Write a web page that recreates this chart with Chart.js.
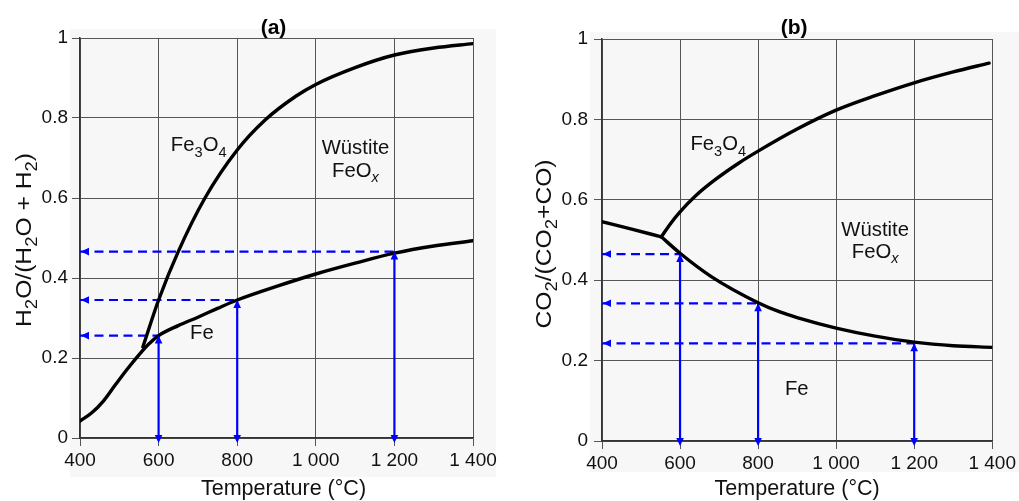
<!DOCTYPE html>
<html><head><meta charset="utf-8">
<script src="https://cdn.jsdelivr.net/npm/chart.js@4.4.1/dist/chart.umd.min.js"></script>
<style>
html,body{margin:0;padding:0;background:#fff;}
#wrap{position:relative;width:1019px;height:501px;overflow:hidden;}
.box{position:absolute;top:0;height:501px;}
#boxA{left:0;width:510px;}
#boxB{left:510px;width:509px;}
canvas{display:block;}
</style></head><body>
<div id="wrap">
  <div class="box" id="boxA"><canvas id="cA" width="510" height="501"></canvas></div>
  <div class="box" id="boxB"><canvas id="cB" width="509" height="501"></canvas></div>
</div>
<script>
// ---------- data ----------
const xTickValues = [400, 600, 800, 1000, 1200, 1400];
const xTickLabels = ['400', '600', '800', '1 000', '1 200', '1 400'];
const yTickValues = [0, 0.2, 0.4, 0.6, 0.8, 1];
const yTickLabels = ['0', '0.2', '0.4', '0.6', '0.8', '1'];

// (a) H2O / (H2O + H2)
const aLowerT = [400, 430, 460, 490, 520, 550, 575, 600, 650, 700, 750, 800, 900, 1000, 1100, 1200, 1300, 1400];
const aLowerV = [0.0425, 0.063, 0.093, 0.133, 0.172, 0.208, 0.235, 0.256, 0.281, 0.302, 0.324, 0.345, 0.379, 0.41, 0.437, 0.462, 0.48, 0.493];
const aUpperT = [560, 600, 650, 718, 800, 871, 950, 1000, 1100, 1200, 1300, 1400];
const aUpperV = [0.2275, 0.345, 0.466, 0.600, 0.720, 0.795, 0.855, 0.884, 0.926, 0.9575, 0.975, 0.986];
const aMarkT = [600, 800, 1200];
const aMarkV = [0.256, 0.345, 0.466];

// (b) CO2 / (CO2 + CO)
const bLeftT = [400, 476, 552];
const bLeftV = [0.5455, 0.527, 0.508];
const bUpperT = [552, 575, 600, 640, 690, 750, 800, 900, 1000, 1100, 1200, 1300, 1392];
const bUpperV = [0.508, 0.540, 0.570, 0.610, 0.650, 0.691, 0.721, 0.776, 0.823, 0.859, 0.891, 0.918, 0.940];
const bLowerT = [552, 600, 680, 800, 854, 900, 1000, 1100, 1200, 1300, 1400];
const bLowerV = [0.508, 0.467, 0.409, 0.344, 0.3217, 0.307, 0.281, 0.261, 0.246, 0.237, 0.233];
const bMarkT = [600, 800, 1200];
const bMarkV = [0.465, 0.3425, 0.243];

// region labels: [segments, T, value]  (segment mode: 0 normal, 1 subscript, 2 italic subscript)
const aRegionLabels = [
  [[['Fe',0],['3',1],['O',0],['4',1]], 702, 0.734],
  [[['Wüstite',0]], 1101, 0.7275],
  [[['FeO',0],['x',2]], 1101, 0.67],
  [[['Fe',0]], 710, 0.265]
];
const bRegionLabels = [
  [[['Fe',0],['3',1],['O',0],['4',1]], 698, 0.7405],
  [[['Wüstite',0]], 1100, 0.528],
  [[['FeO',0],['x',2]], 1100, 0.4726],
  [[['Fe',0]], 899, 0.131]
];

// ---------- helpers ----------
const FONT = "'Liberation Sans', Arial, Helvetica, sans-serif";
const pts = (T, V) => T.map((t, i) => ({x: t, y: V[i]}));

function drawRich(ctx, segs, cx, cy, size, rot, sx, subRatio) {
  ctx.save();
  ctx.translate(cx, cy);
  if (rot) ctx.rotate(rot);
  if (sx) ctx.scale(sx, 1);
  const sub = size * (subRatio || 0.72);
  const fonts = segs.map(s => s[1] === 0 ? `${size}px ${FONT}` : (s[1] === 2 ? `italic ${sub}px ${FONT}` : `${sub}px ${FONT}`));
  let total = 0;
  const ws = segs.map((s, i) => { ctx.font = fonts[i]; const w = ctx.measureText(s[0]).width; total += w; return w; });
  let x = -total / 2;
  const base = size * 0.358;
  ctx.textAlign = 'left';
  ctx.textBaseline = 'alphabetic';
  ctx.fillStyle = '#111';
  segs.forEach((s, i) => {
    ctx.font = fonts[i];
    ctx.fillText(s[0], x, base + (s[1] ? size * 0.27 : 0));
    x += ws[i];
  });
  ctx.restore();
}

function tri(ctx, x, y, dir) { // tip at (x,y)
  const L = 8, h = 3.8;
  ctx.beginPath();
  if (dir === 'left') { ctx.moveTo(x, y); ctx.lineTo(x + L, y - h); ctx.lineTo(x + L, y + h); }
  if (dir === 'up') { ctx.moveTo(x, y); ctx.lineTo(x - h, y + L); ctx.lineTo(x + h, y + L); }
  if (dir === 'down') { ctx.moveTo(x, y); ctx.lineTo(x - h, y - L); ctx.lineTo(x + h, y - L); }
  ctx.closePath();
  ctx.fill();
}

function makeChart(id, cfg) {
  const W = cfg.W, H = 501, A = cfg.area;
  const curveDs = cfg.curves.map(c => ({
    data: pts(c[0], c[1]), borderColor: '#000', borderWidth: 3.4, pointRadius: 0,
    cubicInterpolationMode: 'monotone', fill: false, borderCapStyle: 'round', borderJoinStyle: 'round'
  }));
  const dashDs = cfg.markT.map((t, i) => ({
    data: [{x: 400, y: cfg.markV[i]}, {x: t, y: cfg.markV[i]}],
    borderColor: '#0000ff', borderWidth: 2.2, borderDash: [9, 5.5], pointRadius: 0, fill: false
  }));
  const vertDs = cfg.markT.map((t, i) => ({
    data: [{x: t, y: 0}, {x: t, y: cfg.markV[i]}],
    borderColor: '#0000ff', borderWidth: 2.2, pointRadius: 0, fill: false, clip: false
  }));

  const deco = {
    id: 'deco' + id,
    beforeDraw(chart) {
      const ctx = chart.ctx;
      ctx.save();
      ctx.fillStyle = '#ffffff';
      ctx.fillRect(0, 0, W, H);
      ctx.fillStyle = '#f7f7f7';
      const r = cfg.bg;
      ctx.fillRect(r[0], r[1], r[2] - r[0], r[3] - r[1]);
      ctx.restore();
    },
    afterDatasetsDraw(chart) {
      const ctx = chart.ctx, xs = chart.scales.x, ys = chart.scales.y;
      ctx.save();
      ctx.fillStyle = '#0000ff';
      cfg.markT.forEach((t, i) => {
        const px = xs.getPixelForValue(t), py = ys.getPixelForValue(cfg.markV[i]);
        const x0 = xs.getPixelForValue(400), y0 = ys.getPixelForValue(0);
        tri(ctx, x0 + 1, py, 'left');
        tri(ctx, px, py, 'up');
        tri(ctx, px, y0 + 5, 'down');
      });
      ctx.restore();
      cfg.labels.forEach(l => drawRich(ctx, l[0], xs.getPixelForValue(l[1]), ys.getPixelForValue(l[2]), 19.5, 0, 1.04));
    },
    afterDraw(chart) {
      const ctx = chart.ctx, ca = chart.chartArea;
      // panel title
      ctx.save();
      ctx.font = `bold 21px ${FONT}`;
      ctx.fillStyle = '#000';
      ctx.textAlign = 'center';
      ctx.textBaseline = 'alphabetic';
      ctx.fillText(cfg.title, (ca.left + ca.right) / 2 + cfg.titleDx, 34);
      // x-axis title
      ctx.font = `21.5px ${FONT}`;
      ctx.fillStyle = '#111';
      ctx.fillText('Temperature (°C)', (ca.left + ca.right) / 2 + cfg.xTitleDx, 495);
      ctx.restore();
      // y-axis title (rotated)
      drawRich(ctx, cfg.yTitle, cfg.yTitlePos[0], cfg.yTitlePos[1], 22, -Math.PI / 2, 1.12, 0.75);
    }
  };

  return new Chart(document.getElementById(id), {
    type: 'line',
    data: { datasets: [...curveDs, ...vertDs, ...dashDs] },
    options: {
      responsive: false, animation: false, devicePixelRatio: 1,
      layout: { padding: { left: 0, top: A.top, right: W - A.right, bottom: 0 } },
      plugins: { legend: { display: false }, tooltip: { enabled: false }, title: { display: false } },
      scales: {
        x: {
          type: 'linear', min: 400, max: 1400,
          afterBuildTicks: s => { s.ticks = xTickValues.map(v => ({value: v})); },
          afterFit: s => { s.height = H - A.bottom; },
          ticks: {
            callback: v => xTickLabels[xTickValues.indexOf(v)],
            font: { family: FONT, size: 19 }, color: '#111', padding: 3, maxRotation: 0, autoSkip: false
          },
          grid: { color: '#555', lineWidth: 1, tickLength: 8, drawTicks: true },
          border: { color: '#333', width: 1.5 }
        },
        y: {
          type: 'linear', min: 0, max: 1,
          afterBuildTicks: s => { s.ticks = yTickValues.map(v => ({value: v})); },
          afterFit: s => { s.width = A.left; },
          ticks: {
            callback: v => yTickLabels[yTickValues.indexOf(v)],
            font: { family: FONT, size: 19 }, color: '#111', padding: cfg.yPad, autoSkip: false
          },
          grid: { color: '#555', lineWidth: 1, tickLength: 8, drawTicks: true },
          border: { color: '#333', width: 1.5 }
        }
      }
    },
    plugins: [deco]
  });
}

makeChart('cA', {
  W: 510, area: {left: 80, right: 473, top: 38, bottom: 438},
  bg: [70, 29, 496, 477],
  curves: [[aLowerT, aLowerV], [aUpperT, aUpperV]],
  markT: aMarkT, markV: aMarkV, labels: aRegionLabels,
  title: '(a)', titleDx: -3, xTitleDx: 7,
  yTitle: [['H',0],['2',1],['O/(H',0],['2',1],['O + H',0],['2',1],[')',0]],
  yTitlePos: [23, 240], yPad: 4
});
makeChart('cB', {
  W: 509, area: {left: 92, right: 484, top: 39, bottom: 441},
  bg: [80, 32, 509, 472],
  curves: [[bLeftT, bLeftV], [bUpperT, bUpperV], [bLowerT, bLowerV]],
  markT: bMarkT, markV: bMarkV, labels: bRegionLabels,
  title: '(b)', titleDx: -3, xTitleDx: 0,
  yTitle: [['CO',0],['2',1],['/(CO',0],['2',1],['+CO)',0]],
  yTitlePos: [33, 244], yPad: 6
});
</script>
</body></html>
